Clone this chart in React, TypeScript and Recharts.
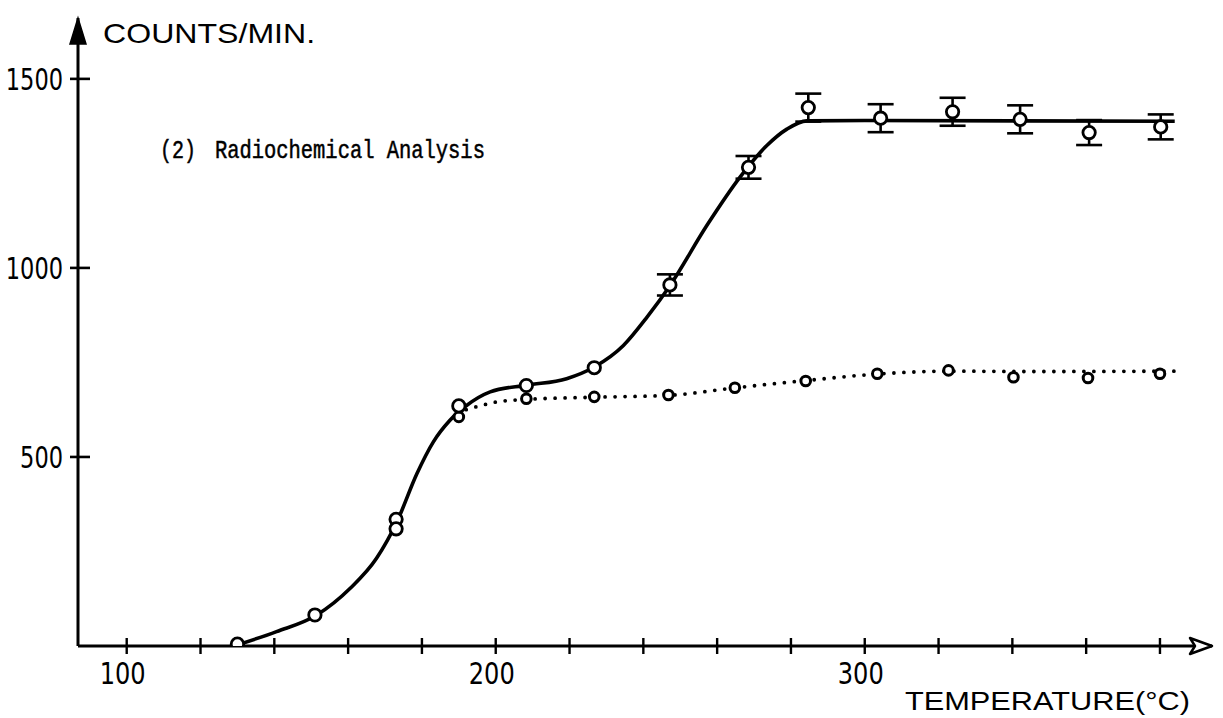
import React from 'react';
import { ComposedChart, Line, Scatter, ErrorBar, XAxis, YAxis, ReferenceDot } from 'recharts';

const W = 1223;
const H = 718;

// ---- data (temperature °C, counts/min) ----
const solidCurveTemp = [130, 140.6, 151.5, 160.5, 167.7, 173.2, 178.6, 183.1, 187.6, 192.1, 198.5, 208.4, 219.2, 226.7, 234.6, 241, 247.2, 257.2, 266.2, 273.4, 278.9, 284.3, 300, 384];
const solidCurveCounts = [3, 38, 82, 152, 232, 328, 455, 540, 597, 636, 672, 690, 707, 738, 795, 870, 953, 1112, 1240, 1323, 1367, 1389, 1390, 1388];

const solidPlainTemp = [130, 151, 173, 173, 190, 208.3, 226.7];
const solidPlainCounts = [5, 82, 335, 310, 635, 689, 736];

const solidErrTemp = [247.2, 268.5, 284.7, 304.3, 323.8, 342.1, 360.8, 380.2];
const solidErrCounts = [955, 1266, 1424, 1396, 1413, 1393, 1358, 1373];
const solidErrSize = [28, 30, 37, 37, 37, 37, 33, 33];

const dottedPointTemp = [190, 208.3, 226.7, 246.8, 264.8, 284, 303.4, 322.7, 340.3, 360.5, 380];
const dottedPointCounts = [606, 654, 659, 664, 683, 701, 720, 729, 711, 709, 720];

const dottedCurveTemp = [192, 196, 200, 208, 227, 247, 265, 284, 303, 323, 345, 385.5];
const dottedCurveCounts = [625, 636, 645, 652, 658, 663, 683, 702, 719, 727, 726, 727];

const xTicks = [100, 120, 140, 160, 180, 200, 220, 240, 260, 280, 300, 320, 340, 360, 380];
const xTickLabels = [100, 200, 300];
const yTicks = [500, 1000, 1500];

const xDomain: [number, number] = [86.8, 394.1];
const yDomain: [number, number] = [0, 1661];

const zip = (xs: number[], ys: number[], extra?: number[]) =>
  xs.map((x, i) => (extra ? { x, y: ys[i], err: extra[i] } : { x, y: ys[i] }));

const solidCurve = zip(solidCurveTemp, solidCurveCounts);
const solidPlain = zip(solidPlainTemp, solidPlainCounts);
const solidErr = zip(solidErrTemp, solidErrCounts, solidErrSize);
const dottedPoints = zip(dottedPointTemp, dottedPointCounts);
const dottedCurve = zip(dottedCurveTemp, dottedCurveCounts);

const NUM_FONT = '"Liberation Sans Narrow", "DejaVu Sans Condensed", "Liberation Sans", sans-serif';
const LETTER_FONT = '"Liberation Sans", "DejaVu Sans", sans-serif';
const MONO_FONT = '"Liberation Mono", "DejaVu Sans Mono", monospace';

const XTick = (props: any) => {
  const { x, y, payload } = props;
  const v = payload.value;
  const show = xTickLabels.includes(v);
  return (
    <g>
      <line x1={x} x2={x} y1={y - 8} y2={y + 8} stroke="#000" strokeWidth={2.4} />
      {show && (
        <text
          x={x - 4}
          y={y + 38}
          textAnchor="middle"
          fontSize={31}
          fontFamily={NUM_FONT}
          fill="#000"
          textLength={46}
          lengthAdjust="spacingAndGlyphs"
        >
          {String(v)}
        </text>
      )}
    </g>
  );
};

const YTick = (props: any) => {
  const { x, y, payload } = props;
  const s = String(payload.value);
  return (
    <g>
      <line x1={x - 8} x2={x + 12} y1={y} y2={y} stroke="#000" strokeWidth={2.6} />
      <text
        x={x - 15}
        y={y + 11}
        textAnchor="end"
        fontSize={31}
        fontFamily={NUM_FONT}
        fill="#000"
        textLength={s.length * 14.3}
        lengthAdjust="spacingAndGlyphs"
      >
        {s}
      </text>
    </g>
  );
};

const OpenCircle = (r: number, sw: number) => (props: any) => {
  const { cx, cy } = props;
  if (cx == null || cy == null) return <g />;
  return <circle cx={cx} cy={cy} r={r} fill="#fff" stroke="#000" strokeWidth={sw} />;
};

const UpArrow = (props: any) => {
  const { cx, cy } = props;
  return <path d={`M ${cx} ${cy} L ${cx - 8} ${cy + 26} L ${cx + 8} ${cy + 26} Z`} fill="#000" stroke="#000" strokeWidth={1.5} />;
};

const RightArrow = (props: any) => {
  const { cx, cy } = props;
  return (
    <path
      d={`M ${cx} ${cy} L ${cx - 22} ${cy - 8} L ${cx - 17} ${cy} L ${cx - 22} ${cy + 8} Z`}
      fill="#fff"
      stroke="#000"
      strokeWidth={2.5}
      strokeLinejoin="round"
    />
  );
};

const CountsTitle = (props: any) => {
  const { cx, cy } = props;
  return (
    <text x={cx} y={cy} fontSize={28} fontFamily={LETTER_FONT} fill="#000" textLength={212} lengthAdjust="spacingAndGlyphs">
      COUNTS/MIN.
    </text>
  );
};

const TempTitle = (props: any) => {
  const { cx, cy } = props;
  return (
    <text x={cx} y={cy} fontSize={26} fontFamily={LETTER_FONT} fill="#000" textLength={285} lengthAdjust="spacingAndGlyphs">
      TEMPERATURE(°C)
    </text>
  );
};

const Annotation = (props: any) => {
  const { cx, cy } = props;
  return (
    <g fontFamily={MONO_FONT} fontSize={25} fill="#000" stroke="#000" strokeWidth={0.5}>
      <text x={cx} y={cy} textLength={36} lengthAdjust="spacingAndGlyphs">(2)</text>
      <text x={cx + 55} y={cy} textLength={270} lengthAdjust="spacingAndGlyphs">Radiochemical Analysis</text>
    </g>
  );
};

export default function App() {
  return (
    <div style={{ position: 'absolute', left: 0, top: 0, width: W, height: H, background: '#fff' }}>
      <ComposedChart width={W} height={H} margin={{ top: 18, right: 11, bottom: 0, left: 0 }}>
        <XAxis
          type="number"
          dataKey="x"
          domain={xDomain}
          ticks={xTicks}
          interval={0}
          allowDataOverflow
          height={72}
          tickSize={0}
          tickMargin={0}
          tickLine={false}
          axisLine={{ stroke: '#000', strokeWidth: 3 }}
          tick={<XTick />}
        />
        <YAxis
          type="number"
          dataKey="y"
          domain={yDomain}
          ticks={yTicks}
          interval={0}
          allowDataOverflow
          width={78}
          tickSize={0}
          tickMargin={0}
          tickLine={false}
          axisLine={{ stroke: '#000', strokeWidth: 3 }}
          tick={<YTick />}
        />
        <Line
          data={dottedCurve}
          dataKey="y"
          type="monotone"
          stroke="#000"
          strokeWidth={3.8}
          strokeDasharray="0 10"
          strokeLinecap="round"
          dot={false}
          activeDot={false}
          isAnimationActive={false}
        />
        <Line
          data={solidCurve}
          dataKey="y"
          type="monotone"
          stroke="#000"
          strokeWidth={3.6}
          dot={false}
          activeDot={false}
          isAnimationActive={false}
        />
        <Scatter data={dottedPoints} dataKey="y" shape={OpenCircle(4.8, 3)} isAnimationActive={false} />
        <Scatter data={solidPlain} dataKey="y" shape={OpenCircle(6.2, 2.8)} isAnimationActive={false} />
        <Scatter data={solidErr} dataKey="y" shape={OpenCircle(6.2, 2.8)} isAnimationActive={false}>
          <ErrorBar dataKey="err" direction="y" width={13} stroke="#000" strokeWidth={2.6} />
        </Scatter>
        <ReferenceDot x={xDomain[0]} y={yDomain[1]} r={0} ifOverflow="visible" shape={UpArrow} />
        <ReferenceDot x={xDomain[1]} y={0} r={0} ifOverflow="visible" shape={RightArrow} />
        <ReferenceDot x={93.6} y={1595} r={0} ifOverflow="visible" shape={CountsTitle} />
        <ReferenceDot x={310.9} y={-169} r={0} ifOverflow="visible" shape={TempTitle} />
        <ReferenceDot x={109} y={1291} r={0} ifOverflow="visible" shape={Annotation} />
      </ComposedChart>
    </div>
  );
}
